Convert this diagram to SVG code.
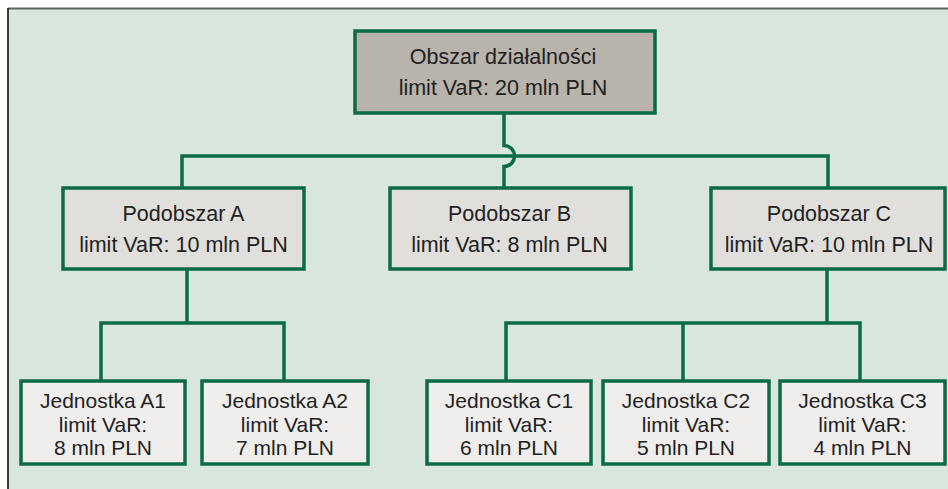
<svg xmlns="http://www.w3.org/2000/svg" width="948" height="489" viewBox="0 0 948 489">
<style>
.box{stroke:#0b6b45;stroke-width:3.5}
.l0{fill:#b8b3ab}
.l1{fill:#e0dfdc}
.l2{fill:#efeeec}
.t{font-family:"Liberation Sans",Arial,sans-serif;font-size:21.5px;fill:#222;text-anchor:middle}
.s{font-size:21px}
.c{fill:none;stroke:#0b6b45;stroke-width:3.5}
</style>
<rect x="0" y="0" width="948" height="489" fill="#ffffff"/>
<rect x="8" y="9" width="940" height="480" fill="#d9e6dd"/>
<line x1="8" y1="8.5" x2="948" y2="8.5" stroke="#5d665f" stroke-width="2"/>
<line x1="8" y1="8" x2="8" y2="489" stroke="#111" stroke-width="1.6"/>
<g id="connectors">
<path class="c" d="M504,113 V145.5 A10.5,10.5 0 0 1 504,166.5 V188"/>
<path class="c" d="M182,188 V156 H828 V188"/>
<path class="c" d="M187,269 V323"/>
<path class="c" d="M101,381 V323 H284 V381"/>
<path class="c" d="M827,269 V323"/>
<path class="c" d="M506,381 V323 H860 V381"/>
<path class="c" d="M683,323 V381"/>
</g>
<g id="top">
<rect class="box l0" x="355" y="31" width="300" height="82"/>
<text class="t" x="503" y="64">Obszar działalności</text>
<text class="t" x="503" y="95">limit VaR: 20 mln PLN</text>
</g>
<g id="podA">
<rect class="box l1" x="63" y="188" width="241" height="81"/>
<text class="t" x="183.5" y="221">Podobszar A</text>
<text class="t" x="183.5" y="252">limit VaR: 10 mln PLN</text>
</g>
<g id="podB">
<rect class="box l1" x="390" y="188" width="241" height="81"/>
<text class="t" x="509.5" y="221">Podobszar B</text>
<text class="t" x="509.5" y="252">limit VaR: 8 mln PLN</text>
</g>
<g id="podC">
<rect class="box l1" x="711" y="188" width="234" height="81"/>
<text class="t" x="829" y="221">Podobszar C</text>
<text class="t" x="829" y="252">limit VaR: 10 mln PLN</text>
</g>
<g id="jA1">
<rect class="box l2" x="21" y="381" width="164" height="83"/>
<text class="t s" x="103" y="408">Jednostka A1</text>
<text class="t s" x="103" y="431.5">limit VaR:</text>
<text class="t s" x="103" y="455">8 mln PLN</text>
</g>
<g id="jA2">
<rect class="box l2" x="202" y="381" width="166" height="83"/>
<text class="t s" x="285" y="408">Jednostka A2</text>
<text class="t s" x="285" y="431.5">limit VaR:</text>
<text class="t s" x="285" y="455">7 mln PLN</text>
</g>
<g id="jC1">
<rect class="box l2" x="427" y="381" width="164" height="83"/>
<text class="t s" x="509" y="408">Jednostka C1</text>
<text class="t s" x="509" y="431.5">limit VaR:</text>
<text class="t s" x="509" y="455">6 mln PLN</text>
</g>
<g id="jC2">
<rect class="box l2" x="603" y="381" width="166" height="83"/>
<text class="t s" x="686" y="408">Jednostka C2</text>
<text class="t s" x="686" y="431.5">limit VaR:</text>
<text class="t s" x="686" y="455">5 mln PLN</text>
</g>
<g id="jC3">
<rect class="box l2" x="780" y="381" width="165" height="83"/>
<text class="t s" x="862.5" y="408">Jednostka C3</text>
<text class="t s" x="862.5" y="431.5">limit VaR:</text>
<text class="t s" x="862.5" y="455">4 mln PLN</text>
</g>
</svg>
